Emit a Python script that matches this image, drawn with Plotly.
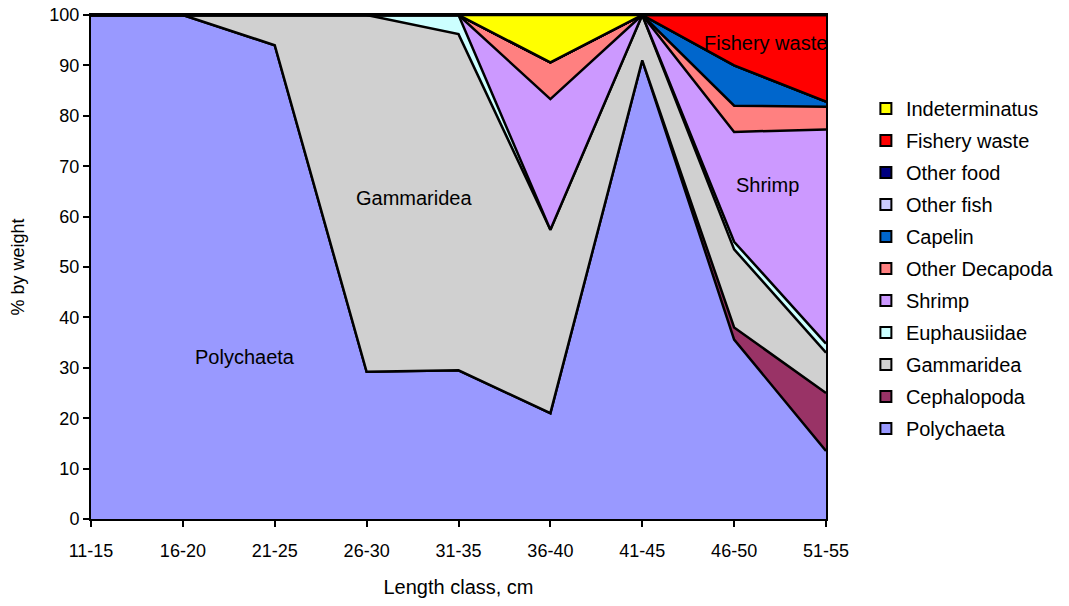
import plotly.graph_objects as go

# Length classes (cm)
length_classes = ["11-15", "16-20", "21-25", "26-30", "31-35",
                  "36-40", "41-45", "46-50", "51-55"]

# Diet composition, % by weight, per prey group
polychaeta     = [100, 100, 94.0, 29.2, 29.5, 21.0, 91.0, 35.6, 13.5]
cephalopoda    = [0, 0, 0, 0, 0, 0, 0, 2.4, 11.5]
gammaridea     = [0, 0, 6.0, 70.8, 66.7, 36.4, 9.0, 15.5, 8.0]
euphausiidae   = [0, 0, 0, 0, 3.8, 0, 0, 1.5, 1.8]
shrimp         = [0, 0, 0, 0, 0, 25.9, 0, 21.8, 42.5]
other_decapoda = [0, 0, 0, 0, 0, 7.3, 0, 5.2, 4.5]
capelin        = [0, 0, 0, 0, 0, 0, 0, 8.0, 1.0]
other_fish     = [0, 0, 0, 0, 0, 0, 0, 0, 0]
other_food     = [0, 0, 0, 0, 0, 0, 0, 0, 0]
fishery_waste  = [0, 0, 0, 0, 0, 0, 0, 10.0, 17.2]
indeterminatus = [0, 0, 0, 0, 0, 9.4, 0, 0, 0]

series = [
    ("Polychaeta", polychaeta, "#9999FF"),
    ("Cephalopoda", cephalopoda, "#993366"),
    ("Gammaridea", gammaridea, "#D0D0D0"),
    ("Euphausiidae", euphausiidae, "#CCFFFF"),
    ("Shrimp", shrimp, "#CC99FF"),
    ("Other Decapoda", other_decapoda, "#FF8080"),
    ("Capelin", capelin, "#0066CC"),
    ("Other fish", other_fish, "#CCCCFF"),
    ("Other food", other_food, "#000080"),
    ("Fishery waste", fishery_waste, "#FF0000"),
    ("Indeterminatus", indeterminatus, "#FFFF00"),
]

FONT = "Liberation Sans, Arial, sans-serif"

fig = go.Figure()
n = len(series)
for i, (name, vals, color) in enumerate(series):
    # stacked area layer
    fig.add_trace(go.Scatter(
        x=length_classes, y=vals, name=name,
        mode="lines", stackgroup="diet",
        line=dict(color="black", width=2.5),
        fillcolor=color, showlegend=False,
    ))
    # square swatch for the legend (top of the stack listed first)
    fig.add_trace(go.Scatter(
        x=[None], y=[None], name=name, mode="markers",
        marker=dict(symbol="square", size=11, color=color,
                    line=dict(color="black", width=2)),
        legendgroup=name, legendrank=n - i, showlegend=True,
    ))

# In-plot labels (x given as category index)
labels = [
    ("Polychaeta", 1.68, 32.1),
    ("Gammaridea", 3.52, 63.7),
    ("Shrimp", 7.36, 66.3),
    ("Fishery waste", 7.34, 94.4),
]
for text, xpos, yval in labels:
    fig.add_annotation(x=xpos, y=yval, text=text, showarrow=False,
                       font=dict(size=20, color="black", family=FONT))

fig.update_layout(
    width=1069, height=606,
    margin=dict(l=91, r=243, t=15, b=87),
    paper_bgcolor="white", plot_bgcolor="white",
    font=dict(family=FONT, size=18, color="black"),
    showlegend=True,
    legend=dict(xref="container", yref="container",
                x=0.810, y=1 - 89 / 606, xanchor="left", yanchor="top",
                traceorder="grouped", tracegroupgap=3, maxheight=560,
                font=dict(size=20), itemwidth=30),
    xaxis=dict(
        type="category", range=[0, 8], automargin=False,
        title=dict(text="Length class, cm", font=dict(size=20), standoff=20),
        tickfont=dict(size=18), ticklabelstandoff=8,
        showline=True, linecolor="black", linewidth=2, mirror=True,
        ticks="outside", ticklen=6, tickcolor="black", tickwidth=2,
        showgrid=False, zeroline=False,
    ),
    yaxis=dict(
        range=[0, 100], dtick=10, automargin=False,
        title=dict(text="% by weight", font=dict(size=18), standoff=20),
        tickfont=dict(size=18),
        showline=True, linecolor="black", linewidth=2, mirror=True,
        ticks="outside", ticklen=6, tickcolor="black", tickwidth=2,
        showgrid=False, zeroline=False,
    ),
)

fig.write_html("out.html")
